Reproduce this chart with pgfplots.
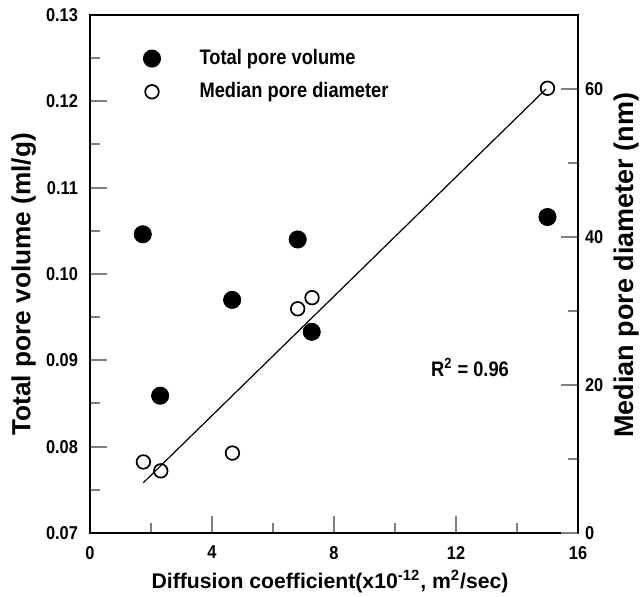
\documentclass[border=0pt]{standalone}
\usepackage{fontspec}
\setmainfont{Liberation Sans}
\newfontfamily\narrow{Liberation Sans}[FakeStretch=0.87]
\newfontfamily\ticks{Liberation Sans}[FakeStretch=0.88]
\usepackage{pgfplots}
\pgfplotsset{compat=1.18}

\begin{document}
\begin{tikzpicture}
\pgfplotsset{
 base/.style={scale only axis,width=244pt,height=259pt,xmin=0,xmax=16,
  axis line style={line width=1pt},
  major tick style={line width=1pt},minor tick style={line width=1pt},
  major tick length=8.5pt,minor tick length=5pt,
  tick label style={font=\ticks\fontsize{9.3}{11}\selectfont\bfseries},
  /pgf/number format/assume math mode=true}
}
\begin{axis}[base,
 ymin=0.07,ymax=0.13,
 xtick={0,4,8,12,16},minor xtick={2,6,10,14},
 ytick={0.07,0.08,0.09,0.10,0.11,0.12,0.13},minor ytick={0.075,0.085,0.095,0.105,0.115,0.125},
 xtick pos=bottom,ytick pos=left,
 yticklabel style={xshift=-2.5pt,/pgf/number format/.cd,fixed,fixed zerofill,precision=2},
 xticklabel style={yshift=-3pt},
 xlabel={Diffusion coefficient(x10\textsuperscript{-12}, m\textsuperscript{2}/sec)},
 ylabel={Total pore volume (ml/g)},
 x label style={font=\fontsize{10.6}{12}\selectfont\bfseries,
  at={(axis description cs:0.492,-0.0945)},anchor=center},
 y label style={font=\fontsize{13.1}{15}\selectfont\bfseries,
  at={(axis description cs:-0.136,0.48)},anchor=center},
 legend style={draw=none,fill=none,inner sep=0pt,
  at={(axis description cs:0.1086,0.942)},anchor=north west,
  font=\narrow\fontsize{10.5}{12}\selectfont\bfseries,row sep=3.5pt,
  /tikz/every odd column/.append style={column sep=17.5pt}},
 legend cell align=left]
\addplot[only marks,mark=*,mark size=4.3pt,black] coordinates {
 (1.73,0.1046) (6.81,0.1040) (2.30,0.0859) (4.66,0.0970) (7.27,0.0933) (15.0,0.1066)};
\addlegendentry{Total pore volume}
\addlegendimage{only marks,mark=o,mark size=3.4pt,line width=0.85pt,black}
\addlegendentry{Median pore diameter}
\node[font=\narrow\fontsize{10.5}{12}\selectfont\bfseries] at (axis cs:12.46,0.0892) {R\textsuperscript{2} = 0.96};
\end{axis}
\begin{axis}[base,
 ymin=0,ymax=70,
 axis x line=none,axis y line*=right,
 ytick={0,20,40,60},minor ytick={10,30,50},
 ylabel={Median pore diameter (nm)},
 y label style={font=\fontsize{13.5}{16}\selectfont\bfseries,
  at={(axis description cs:1.099,0.517)},anchor=center}]
\addplot[only marks,mark=o,mark size=3.4pt,line width=0.85pt,black] coordinates {
 (1.75,9.6) (2.32,8.4) (4.67,10.8) (6.81,30.3) (7.28,31.8) (15.0,60.1)};
\addplot[black,line width=0.6pt] coordinates {(1.75,6.8) (14.95,60.0)};
\end{axis}
\pgfresetboundingbox
\useasboundingbox (-45pt,-32pt) rectangle (275.5pt,266.5pt);
\end{tikzpicture}
\end{document}
